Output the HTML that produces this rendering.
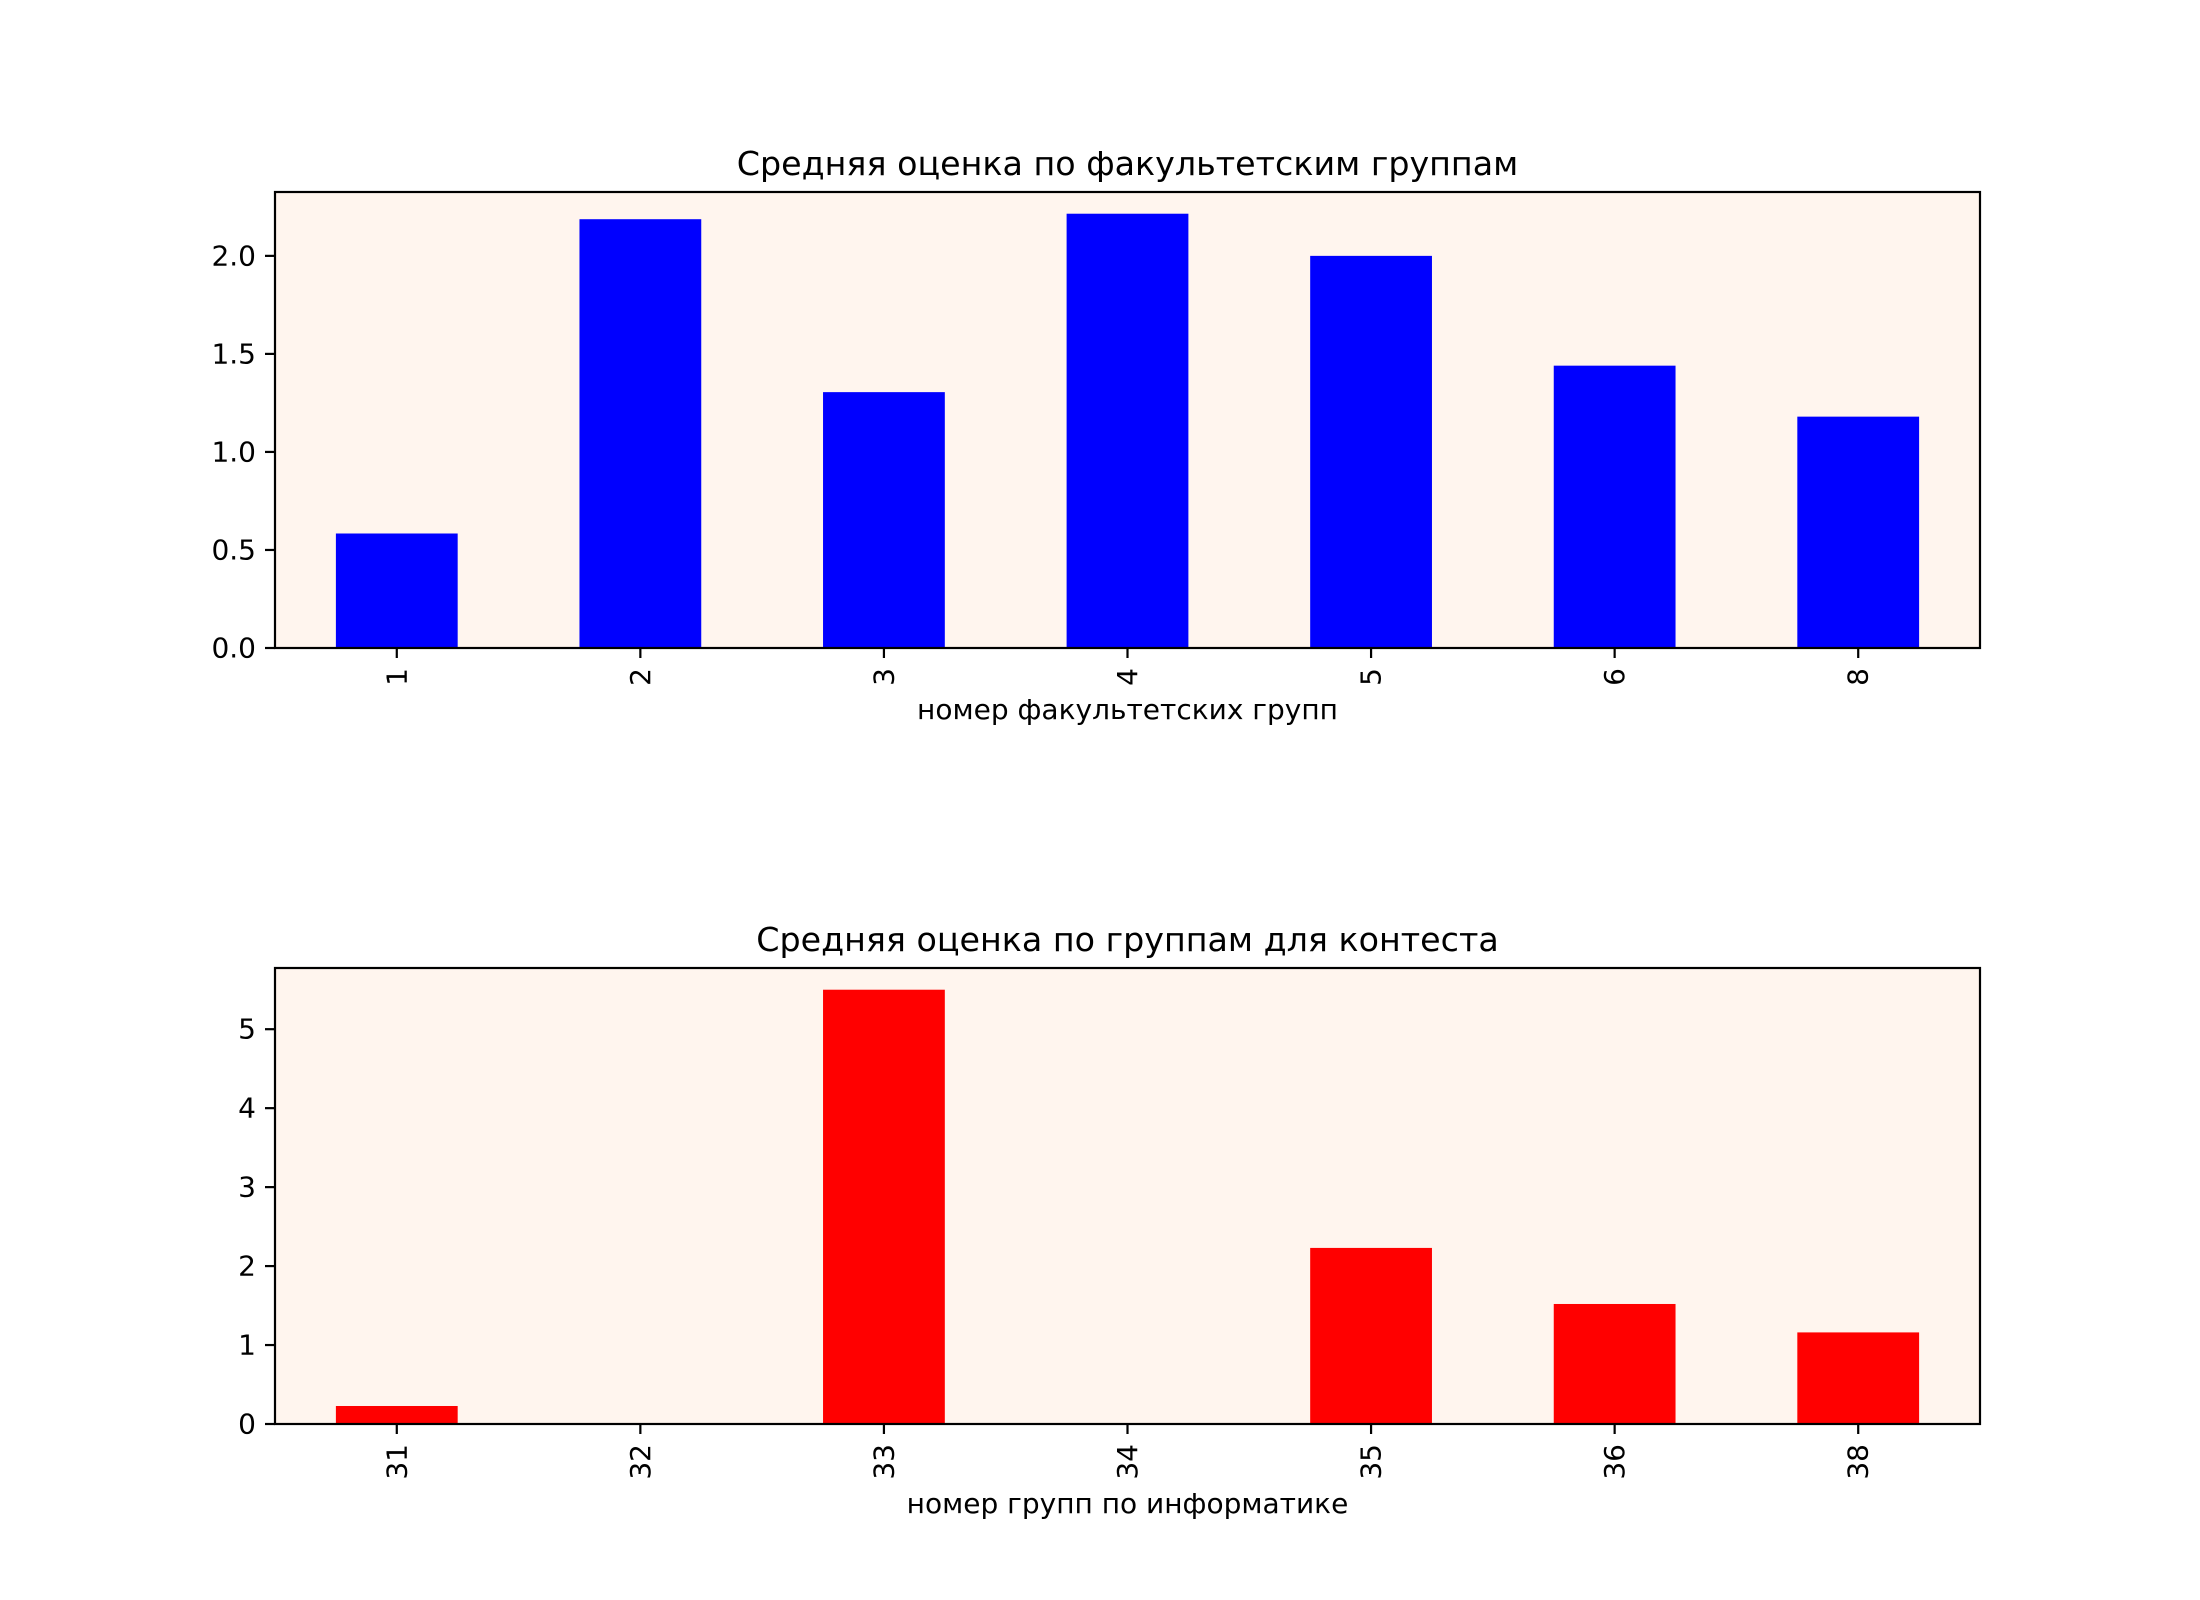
<!DOCTYPE html>
<html><head><meta charset="utf-8"><style>html,body{margin:0;padding:0;background:#fff}svg{display:block}text{font-family:"DejaVu Sans","Liberation Sans",sans-serif;fill:#000}</style></head>
<body>
<svg id="chart" width="2200" height="1600" viewBox="0 0 2200 1600" xmlns="http://www.w3.org/2000/svg"></svg>
<script>
const topCategories = ["1","2","3","4","5","6","8"];
const topValues = [0.584, 2.187, 1.305, 2.215, 2.0, 1.44, 1.18];
const topTicks = [0, 0.5, 1.0, 1.5, 2.0];
const topTickLabels = ["0.0","0.5","1.0","1.5","2.0"];
const botCategories = ["31","32","33","34","35","36","38"];
const botValues = [0.228, 0, 5.5, 0, 2.23, 1.52, 1.16];
const botTicks = [0, 1, 2, 3, 4, 5];
const botTickLabels = ["0","1","2","3","4","5"];

const NS = "http://www.w3.org/2000/svg";
const svg = document.getElementById('chart');
function mk(tag, attrs, parent) {
  const e = document.createElementNS(NS, tag);
  for (const k in attrs) e.setAttribute(k, attrs[k]);
  (parent || svg).appendChild(e);
  return e;
}
function drawPanel(cfg) {
  const L = 275, R = 1980, T = cfg.top, B = cfg.top + 456;
  const g = mk('g', {});
  
  
  const n = cfg.cats.length;
  const ymax = Math.max(...cfg.vals) * 1.05;
  const xs = i => L + (i + 0.5) * (R - L) / n;
  const ys = v => B - v / ymax * (B - T);
  const bg = mk('rect', {x: L, y: T, width: R - L, height: B - T, fill: '#fff5ee'}, g);
  
  
  const bw = 0.5 * (R - L) / n;
  cfg.vals.forEach((v, i) => {
    const r = mk('rect', {x: xs(i) - bw / 2, y: ys(v), width: bw, height: B - ys(v), fill: cfg.color}, g);
    
    
  });
  const fr = mk('rect', {x: L, y: T, width: R - L, height: B - T, fill: 'none', stroke: '#000', 'stroke-width': 2.2}, g);
  
  
  cfg.cats.forEach((c, i) => {
    const x = xs(i);
    mk('line', {x1: x, y1: B, x2: x, y2: B + 10, stroke: '#000', 'stroke-width': 2.2}, g);
    const t = mk('text', {x: 0, y: 0, 'font-size': 28, 'text-anchor': 'end', 'dominant-baseline': 'central', transform: `translate(${x},${B + 20}) rotate(-90)`}, g);
    t.textContent = c;
    
    
  });
  cfg.ticks.forEach((v, i) => {
    const y = ys(v);
    mk('line', {x1: L - 10, y1: y, x2: L, y2: y, stroke: '#000', 'stroke-width': 2.2}, g);
    const t = mk('text', {x: L - 19, y: y, 'font-size': 28, 'text-anchor': 'end', 'dominant-baseline': 'central'}, g);
    t.textContent = cfg.tickLabels[i];
    
    
  });
  const title = mk('text', {x: (L + R) / 2, y: T - 17, 'font-size': 33.3, 'text-anchor': 'middle'}, g);
  title.textContent = cfg.title;
  
  
  const xl = mk('text', {x: (L + R) / 2, y: B + cfg.xlOff, 'font-size': 28, 'text-anchor': 'middle'}, g);
  xl.textContent = cfg.xlabel;
  
  
}
drawPanel({name: 'faculty-groups-chart', top: 192, xlOff: 71, cats: topCategories, vals: topValues, ticks: topTicks, tickLabels: topTickLabels, color: '#0000ff', title: 'Средняя оценка по факультетским группам', xlabel: 'номер факультетских групп'});
drawPanel({name: 'contest-groups-chart', top: 968, xlOff: 89, cats: botCategories, vals: botValues, ticks: botTicks, tickLabels: botTickLabels, color: '#ff0000', title: 'Средняя оценка по группам для контеста', xlabel: 'номер групп по информатике'});
</script>
</body></html>
